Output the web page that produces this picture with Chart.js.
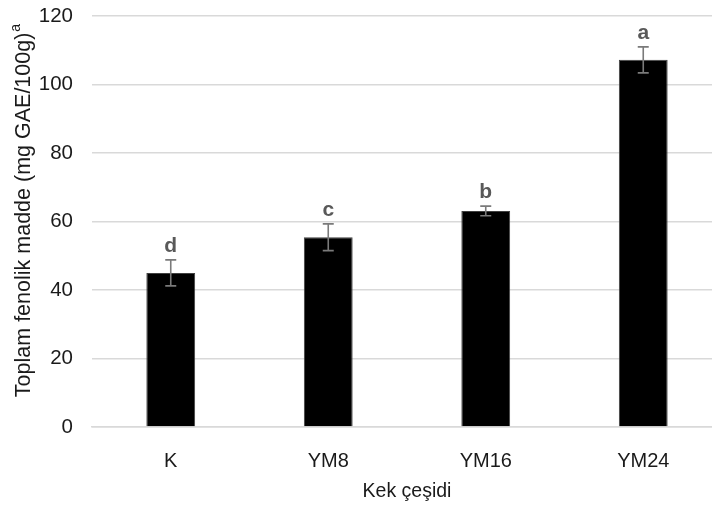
<!DOCTYPE html>
<html>
<head>
<meta charset="utf-8">
<script src="https://cdn.jsdelivr.net/npm/chart.js@4/dist/chart.umd.min.js"></script>
<style>
  html, body { margin: 0; padding: 0; background: #fff; overflow: hidden; }
  #wrap { width: 712px; height: 505px; overflow: hidden; }
</style>
</head>
<body>
<div id="wrap"><canvas id="c" width="722" height="505"></canvas></div>
<script>
const categories = ['K', 'YM8', 'YM16', 'YM24'];
const means = [45.0, 55.4, 63.1, 107.2];
const errors = [3.8, 3.9, 1.4, 3.8];
const letters = ['d', 'c', 'b', 'a'];
const yTicks = [0, 20, 40, 60, 80, 100, 120];
const yTitle = 'Toplam fenolik madde (mg GAE/100g)';
const yTitleSup = 'a';

const FONT = '"Liberation Sans", Arial, sans-serif';

// Error bars and significance letters drawn over each bar
const errorBarPlugin = {
  id: 'errorBars',
  afterDatasetsDraw(chart) {
    const ctx = chart.ctx;
    const y = chart.scales.y;
    const meta = chart.getDatasetMeta(0);
    ctx.save();
    meta.data.forEach((bar, i) => {
      const x = bar.x;
      const top = y.getPixelForValue(means[i] + errors[i]);
      const bot = y.getPixelForValue(means[i] - errors[i]);
      const cap = 5.5;
      ctx.strokeStyle = '#7a7a7a';
      ctx.lineWidth = 1.6;
      ctx.beginPath();
      ctx.moveTo(x, top); ctx.lineTo(x, bot);
      ctx.moveTo(x - cap, top); ctx.lineTo(x + cap, top);
      ctx.moveTo(x - cap, bot); ctx.lineTo(x + cap, bot);
      ctx.stroke();
      ctx.fillStyle = '#595959';
      ctx.font = 'bold 21px ' + FONT;
      ctx.textAlign = 'center';
      ctx.textBaseline = 'alphabetic';
      ctx.fillText(letters[i], x, top - 8);
    });
    ctx.restore();
  }
};

// Rotated y-axis title with a superscript marker
const yTitlePlugin = {
  id: 'yTitle',
  afterDraw(chart) {
    const ctx = chart.ctx;
    const area = chart.chartArea;
    ctx.save();
    ctx.fillStyle = '#1a1a1a';
    ctx.textBaseline = 'alphabetic';
    ctx.font = '21.5px ' + FONT;
    const w = ctx.measureText(yTitle).width;
    ctx.font = '14px ' + FONT;
    const ws = ctx.measureText(yTitleSup).width;
    const total = w + 1 + ws;
    const cy = (area.top + area.bottom) / 2 - 11;
    ctx.translate(30, cy);
    ctx.rotate(-Math.PI / 2);
    ctx.font = '21.5px ' + FONT;
    ctx.textAlign = 'left';
    ctx.fillText(yTitle, -total / 2, 0);
    ctx.font = '14px ' + FONT;
    ctx.fillText(yTitleSup, -total / 2 + w + 1, -10);
    ctx.restore();
  }
};

new Chart(document.getElementById('c'), {
  type: 'bar',
  data: {
    labels: categories,
    datasets: [{
      data: means,
      backgroundColor: '#000000',
      borderColor: '#404040',
      borderWidth: 1,
      categoryPercentage: 1.0,
      barPercentage: 0.31
    }]
  },
  options: {
    responsive: false,
    animation: false,
    devicePixelRatio: 1,
    layout: { padding: { top: 0, right: 0, left: 0, bottom: 0 } },
    plugins: {
      legend: { display: false },
      tooltip: { enabled: false }
    },
    scales: {
      x: {
        afterFit(scale) { scale.height = 78; },
        grid: { display: false, drawTicks: false },
        border: { display: true, color: '#d9d9d9', width: 1.5 },
        ticks: { color: '#1a1a1a', font: { family: FONT, size: 20 }, padding: 22, maxRotation: 0 },
        title: {
          display: true, text: 'Kek çeşidi', color: '#1a1a1a',
          font: { family: FONT, size: 19.5 }, padding: { top: 4, bottom: 2 }
        }
      },
      y: {
        min: 0, max: 120,
        afterFit(scale) {
          scale.width = 92;
          scale.paddingTop = 16;
          scale.paddingBottom = 12;
        },
        afterBuildTicks(scale) { scale.ticks = yTicks.map(v => ({ value: v })); },
        grid: { color: '#d9d9d9', lineWidth: 1.5, drawTicks: false },
        border: { display: false },
        ticks: { color: '#1a1a1a', font: { family: FONT, size: 20.5 }, padding: 19 },
        title: { display: false }
      }
    }
  },
  plugins: [errorBarPlugin, yTitlePlugin]
});
</script>
</body>
</html>
